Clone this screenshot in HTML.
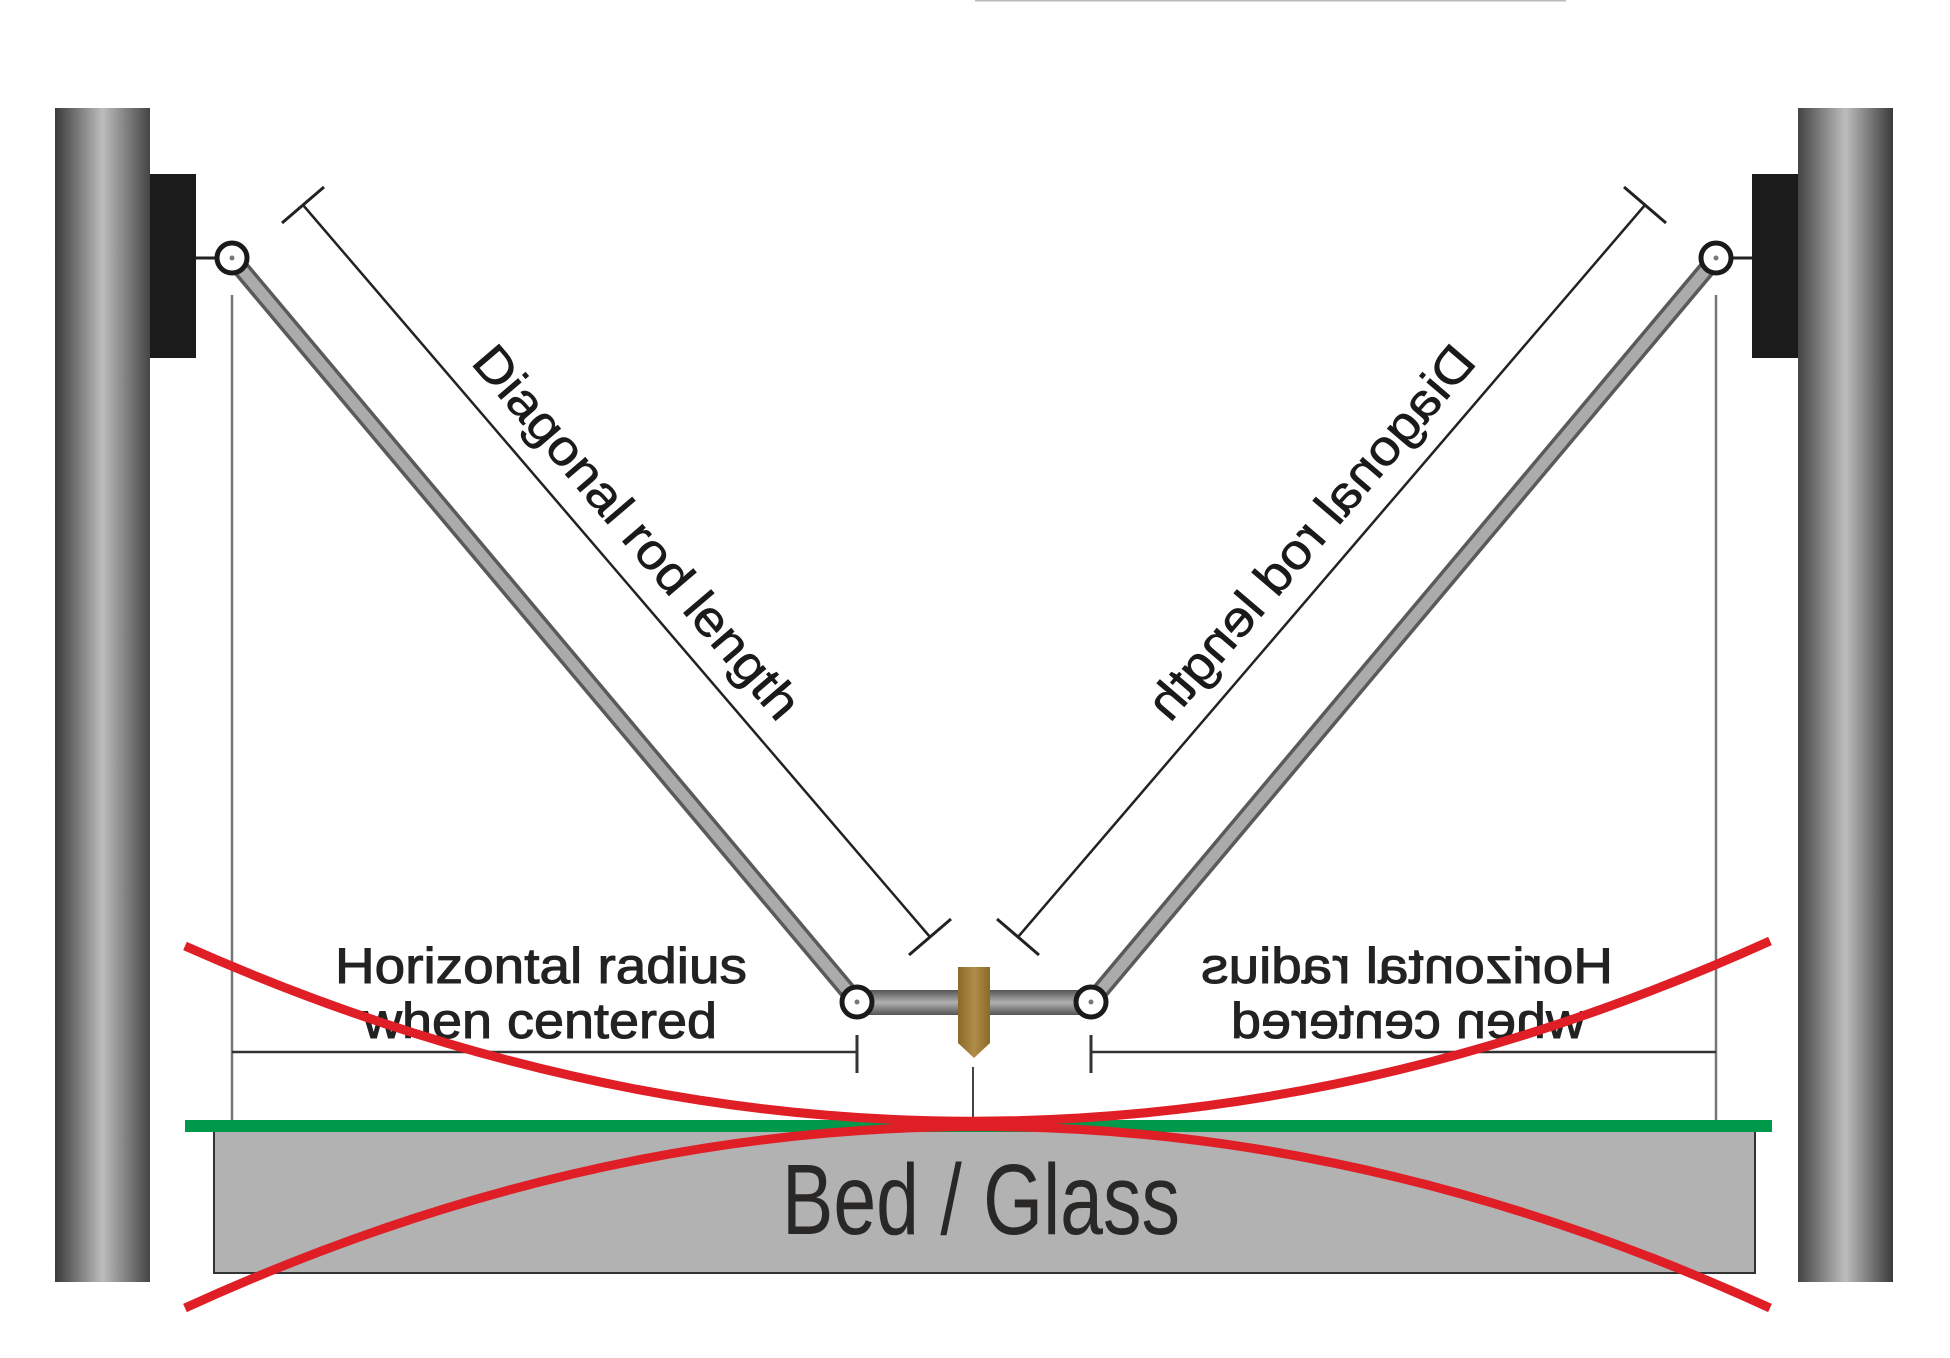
<!DOCTYPE html>
<html><head><meta charset="utf-8"><style>html,body{margin:0;padding:0;background:#fff}svg{display:block}</style></head>
<body>
<svg width="1950" height="1358" viewBox="0 0 1950 1358" xmlns="http://www.w3.org/2000/svg">
<defs>
<linearGradient id="pil" x1="0" x2="1" y1="0" y2="0">
<stop offset="0" stop-color="#3a3a3a"/><stop offset="0.5" stop-color="#bdbdbd"/><stop offset="1" stop-color="#444"/>
</linearGradient>
<linearGradient id="bar" x1="0" x2="0" y1="0" y2="1">
<stop offset="0" stop-color="#555"/><stop offset="0.5" stop-color="#b0b0b0"/><stop offset="1" stop-color="#555"/>
</linearGradient>
<linearGradient id="noz" x1="0" x2="1"><stop offset="0" stop-color="#8a6a2a"/><stop offset="0.5" stop-color="#b08c48"/><stop offset="1" stop-color="#8a6a2a"/></linearGradient>
<g id="half">
<rect x="55" y="108" width="95" height="1174" fill="url(#pil)"/>
<rect x="150" y="174" width="46" height="184" fill="#1b1b1b"/>
<line x1="196" y1="258" x2="216" y2="258" stroke="#222" stroke-width="3"/>
<line x1="232" y1="258" x2="857" y2="1002" stroke="#5a5a5a" stroke-width="18"/>
<line x1="232" y1="258" x2="857" y2="1002" stroke="#ababab" stroke-width="11"/>
<rect x="857" y="990" width="118" height="25" fill="url(#bar)"/>
<circle cx="232" cy="258" r="15" fill="#fff" stroke="#1a1a1a" stroke-width="5"/>
<circle cx="232" cy="258" r="2.5" fill="#777"/>
<circle cx="857" cy="1002" r="15" fill="#fff" stroke="#1a1a1a" stroke-width="5"/>
<circle cx="857" cy="1002" r="2.5" fill="#777"/>
<line x1="232" y1="295" x2="232" y2="1122" stroke="#777" stroke-width="2.5"/>
<line x1="232" y1="1052" x2="857" y2="1052" stroke="#333" stroke-width="2.5"/>
<line x1="857" y1="1035" x2="857" y2="1073" stroke="#333" stroke-width="3"/>
<line x1="303" y1="205" x2="930" y2="937" stroke="#222" stroke-width="2.5"/>
<line x1="282" y1="223" x2="324" y2="187" stroke="#222" stroke-width="3"/>
<line x1="909" y1="955" x2="951" y2="919" stroke="#222" stroke-width="3"/>
<text transform="translate(470,363) rotate(49.5)" font-family="Liberation Sans, sans-serif" font-size="50" fill="#1a1a1a" stroke="#1a1a1a" stroke-width="0.6" textLength="474" lengthAdjust="spacingAndGlyphs">Diagonal rod length</text>
<text x="335" y="983" font-family="Liberation Sans, sans-serif" font-size="50" fill="#222" stroke="#222" stroke-width="1" textLength="412" lengthAdjust="spacingAndGlyphs">Horizontal radius</text>
<text x="363" y="1038" font-family="Liberation Sans, sans-serif" font-size="50" fill="#222" stroke="#222" stroke-width="1" textLength="354" lengthAdjust="spacingAndGlyphs">when centered</text>
</g>
</defs>
<line x1="975" y1="0.5" x2="1566" y2="0.5" stroke="#bbb" stroke-width="2"/>
<use href="#half"/>
<use href="#half" transform="translate(1948,0) scale(-1,1)"/>
<polygon points="958,967 990,967 990,1043 974,1058 958,1043" fill="url(#noz)"/>
<line x1="973" y1="1067" x2="973" y2="1118" stroke="#444" stroke-width="2"/>
<rect x="214" y="1128" width="1541" height="145" fill="#b1b2b1" stroke="#333" stroke-width="2"/>
<text x="782" y="1234" font-family="Liberation Sans, sans-serif" font-size="100" fill="#2a2826" textLength="398" lengthAdjust="spacingAndGlyphs">Bed / Glass</text>
<line x1="185" y1="1126" x2="1772" y2="1126" stroke="#00984a" stroke-width="12"/>
<path d="M185,946 Q979,1299 1770,941" fill="none" stroke="#e01e26" stroke-width="9"/>
<path d="M185,1308 Q979,945 1770,1308" fill="none" stroke="#e01e26" stroke-width="9"/>
</svg>
</body></html>
